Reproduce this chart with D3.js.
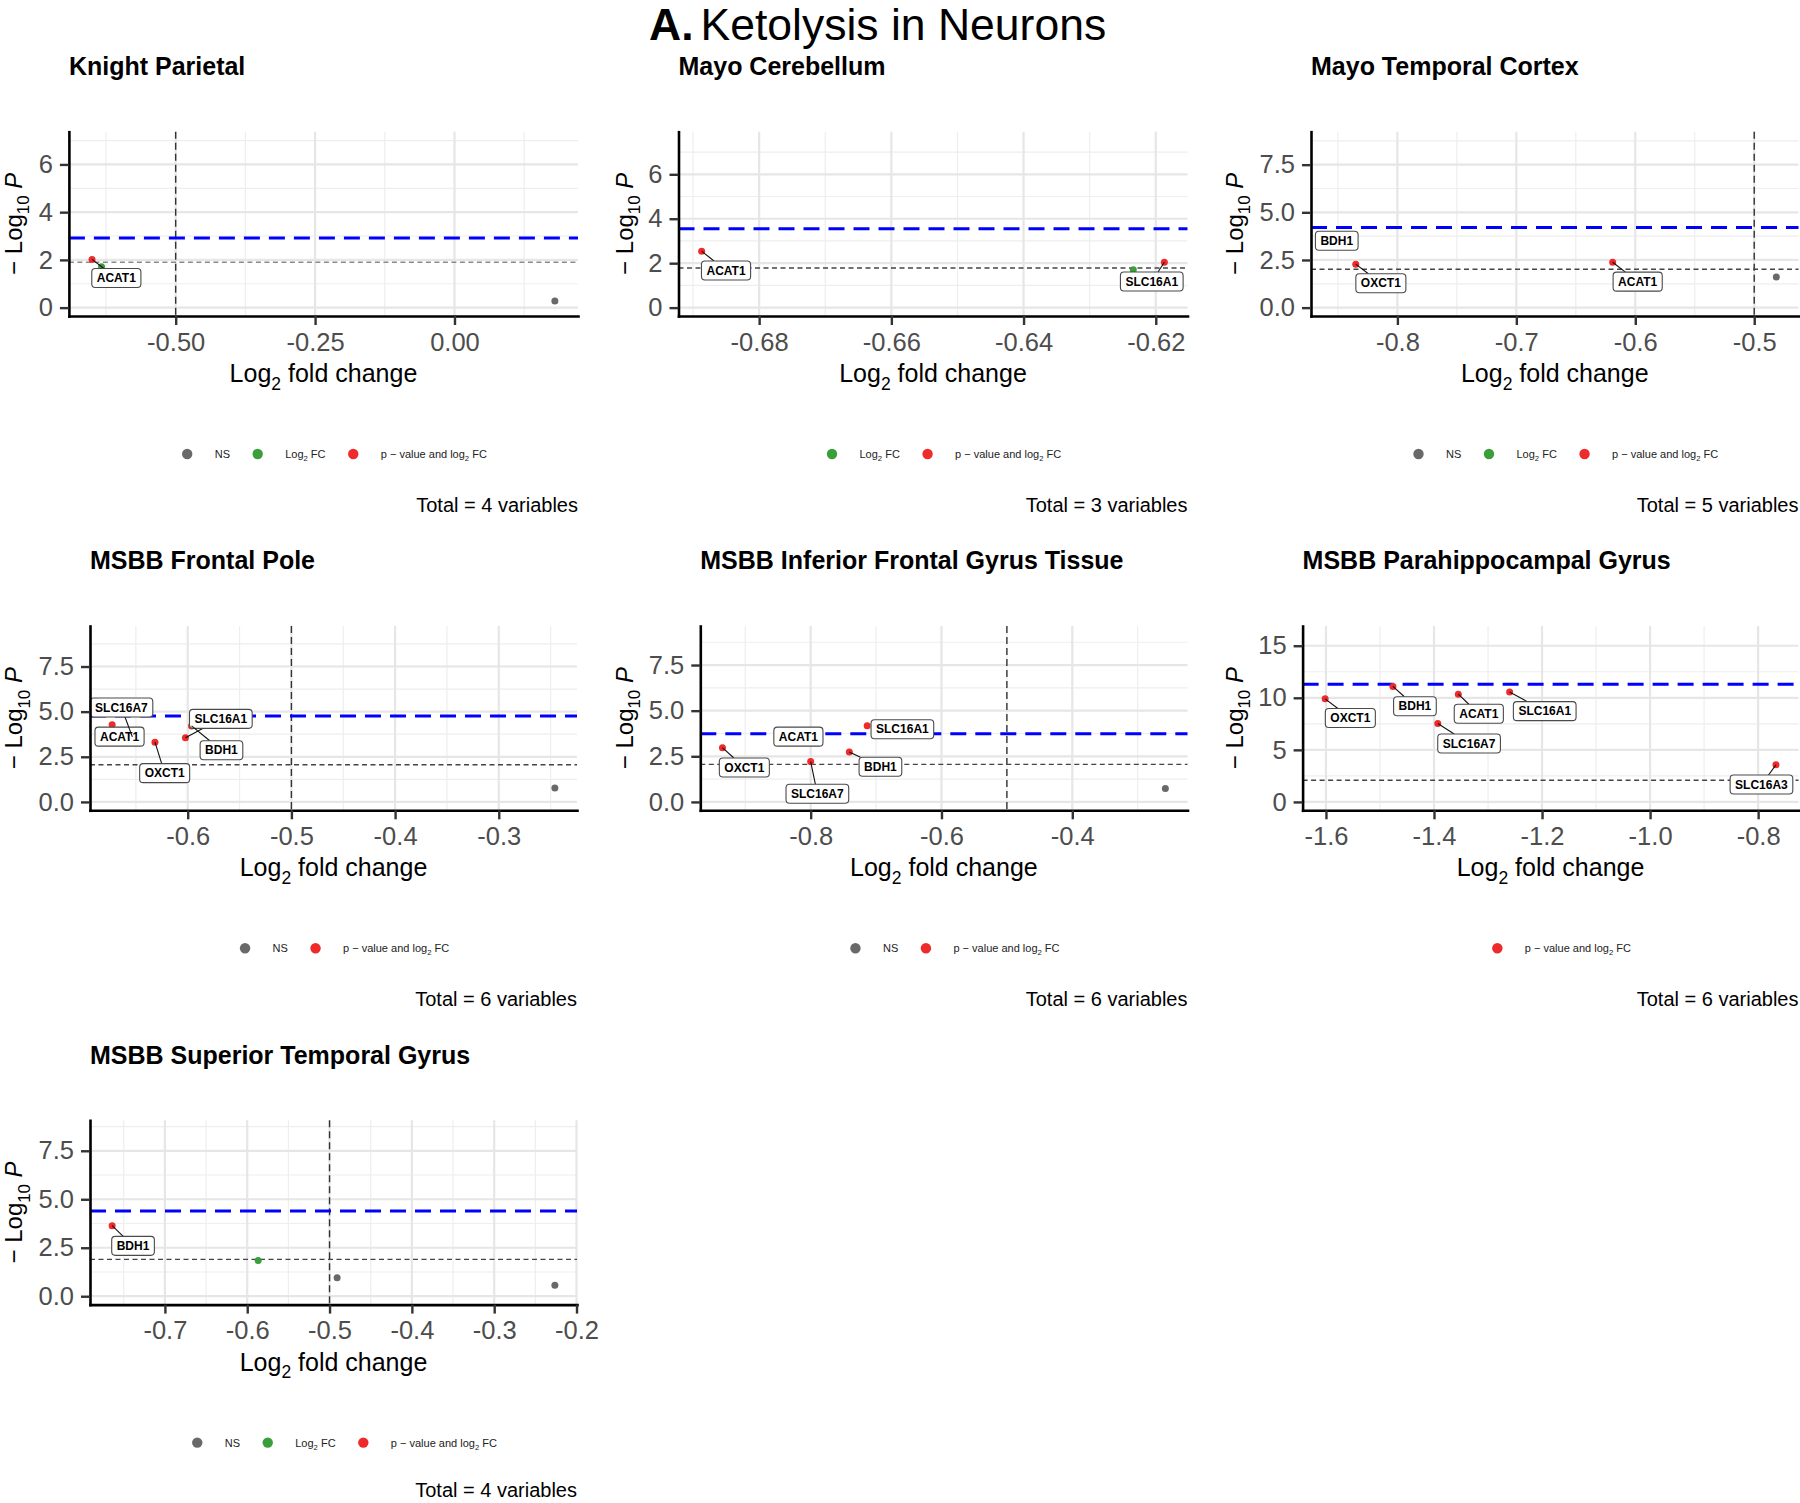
<!DOCTYPE html>
<html><head><meta charset="utf-8">
<script src="https://cdn.jsdelivr.net/npm/d3@7"></script>
<style>body{margin:0;background:#fff;}svg{display:block;}</style>
</head><body>
<svg id="chart" width="1800" height="1503"></svg>
<script>
// ================= DATA =================
const mainTitleBold = "A.";
const mainTitleText = "Ketolysis in Neurons";
const panelTitles = ["Knight Parietal", "Mayo Cerebellum", "Mayo Temporal Cortex",
  "MSBB Frontal Pole", "MSBB Inferior Frontal Gyrus Tissue", "MSBB Parahippocampal Gyrus",
  "MSBB Superior Temporal Gyrus"];
const totalVariables = [4, 3, 5, 6, 6, 6, 4];

// Knight Parietal
const kpGenes = ["", "", "ACAT1"];
const kpLog2FC = [0.180, -0.633, -0.650];
const kpNegLogP = [0.28, 1.71, 2.02];
const kpClass = ["ns", "fc", "both"];
const kpXTicks = [-0.5, -0.25, 0];
const kpXTickLabels = ["-0.50", "-0.25", "0.00"];
const kpYTicks = [0, 2, 4, 6];
const kpYTickLabels = ["0", "2", "4", "6"];
const kpLegend = ["ns", "fc", "both"];

// Mayo Cerebellum
const mcGenes = ["", "ACAT1", "SLC16A1"];
const mcLog2FC = [-0.6234, -0.6887, -0.6187];
const mcNegLogP = [1.71, 2.54, 2.04];
const mcClass = ["fc", "both", "both"];
const mcXTicks = [-0.68, -0.66, -0.64, -0.62];
const mcXTickLabels = ["-0.68", "-0.66", "-0.64", "-0.62"];
const mcYTicks = [0, 2, 4, 6];
const mcYTickLabels = ["0", "2", "4", "6"];
const mcLegend = ["fc", "both"];

// Mayo Temporal Cortex
const mtGenes = ["", "BDH1", "OXCT1", "ACAT1"];
const mtLog2FC = [-0.4814, -0.854, -0.835, -0.619];
const mtNegLogP = [1.61, 3.79, 2.28, 2.38];
const mtClass = ["ns", "both", "both", "both"];
const mtXTicks = [-0.8, -0.7, -0.6, -0.5];
const mtXTickLabels = ["-0.8", "-0.7", "-0.6", "-0.5"];
const mtYTicks = [0, 2.5, 5, 7.5];
const mtYTickLabels = ["0.0", "2.5", "5.0", "7.5"];
const mtLegend = ["ns", "fc", "both"];

// MSBB Frontal Pole
const fpGenes = ["", "ACAT1", "SLC16A7", "OXCT1", "SLC16A1", "BDH1"];
const fpLog2FC = [-0.2459, -0.6729, -0.6534, -0.6316, -0.6022, -0.5963];
const fpNegLogP = [0.776, 4.28, 3.60, 3.31, 3.55, 4.21];
const fpClass = ["ns", "both", "both", "both", "both", "both"];
const fpXTicks = [-0.6, -0.5, -0.4, -0.3];
const fpXTickLabels = ["-0.6", "-0.5", "-0.4", "-0.3"];
const fpYTicks = [0, 2.5, 5, 7.5];
const fpYTickLabels = ["0.0", "2.5", "5.0", "7.5"];
const fpLegend = ["ns", "both"];

// MSBB Inferior Frontal Gyrus Tissue
const ifGenes = ["", "ACAT1", "OXCT1", "SLC16A7", "BDH1", "SLC16A1"];
const ifLog2FC = [-0.2577, -0.8154, -0.9349, -0.800, -0.7409, -0.7136];
const ifNegLogP = [0.73, 3.56, 2.97, 2.21, 2.74, 4.18];
const ifClass = ["ns", "both", "both", "both", "both", "both"];
const ifXTicks = [-0.8, -0.6, -0.4];
const ifXTickLabels = ["-0.8", "-0.6", "-0.4"];
const ifYTicks = [0, 2.5, 5, 7.5];
const ifYTickLabels = ["0.0", "2.5", "5.0", "7.5"];
const ifLegend = ["ns", "both"];

// MSBB Parahippocampal Gyrus
const phGenes = ["OXCT1", "BDH1", "SLC16A7", "ACAT1", "SLC16A1", "SLC16A3"];
const phLog2FC = [-1.6015, -1.476, -1.393, -1.355, -1.260, -0.767];
const phNegLogP = [9.90, 11.09, 7.53, 10.35, 10.55, 3.56];
const phClass = ["both", "both", "both", "both", "both", "both"];
const phXTicks = [-1.6, -1.4, -1.2, -1.0, -0.8];
const phXTickLabels = ["-1.6", "-1.4", "-1.2", "-1.0", "-0.8"];
const phYTicks = [0, 5, 10, 15];
const phYTickLabels = ["0", "5", "10", "15"];
const phLegend = ["both"];

// MSBB Superior Temporal Gyrus
const stGenes = ["", "", "", "BDH1"];
const stLog2FC = [-0.4908, -0.2263, -0.5867, -0.7641];
const stNegLogP = [0.95, 0.57, 1.84, 3.64];
const stClass = ["ns", "ns", "fc", "both"];
const stXTicks = [-0.7, -0.6, -0.5, -0.4, -0.3, -0.2];
const stXTickLabels = ["-0.7", "-0.6", "-0.5", "-0.4", "-0.3", "-0.2"];
const stYTicks = [0, 2.5, 5, 7.5];
const stYTickLabels = ["0.0", "2.5", "5.0", "7.5"];
const stLegend = ["ns", "fc", "both"];

// cutoff lines (-log10 P) and fold-change cutoff
const sigLines = [2.92, 3.55, 4.21, 4.76, 3.74, 11.3, 4.39];
const pCutLines = [1.90, 1.78, 2.01, 2.06, 2.06, 2.08, 1.90];
const fcCutoff = 0.5;

// ================= LAYOUT / STYLE =================
const FONT = '"Liberation Sans", Arial, Helvetica, sans-serif';
const ROW_H = 494.3;
const layout = [
  {axisX: 68.9,  right: 578,    row: 0, yTitleX: 13.5,   hCol: "#8a8a8a", off: [null, null, [24.3, 18.6]]},
  {axisX: 678.5, right: 1187.5, row: 0, yTitleX: 625,    hCol: "#444", off: [null, [24.4, 19.3], [-12.6, 19.2]]},
  {axisX: 1311,  right: 1798.5, row: 0, yTitleX: 1234.5, hCol: "#444", off: [null, [3.6, 5.4], [25.1, 19.1], [25, 19.4]]},
  {axisX: 90,    right: 577,    row: 1, yTitleX: 14.3,   hCol: "#444", off: [null, [7.4, 12], [-10.9, -29.4], [9.7, 31], [35.4, -19], [29.9, 24.3]]},
  {axisX: 700.3, right: 1187.5, row: 1, yTitleX: 625,    hCol: "#444", off: [null, [-2.2, -0.3], [21.9, 19.8], [6.7, 32.2], [31.1, 14.8], [35.2, 3.6]]},
  {axisX: 1302.6,right: 1798.5, row: 1, yTitleX: 1234.5, hCol: "#444", off: [[25.2, 19.2], [22, 19.8], [31.3, 20], [20.5, 19.6], [35.1, 19.1], [-14.5, 19.6]]},
  {axisX: 90,    right: 577,    row: 2, yTitleX: 14.3,   hCol: "#444", off: [null, null, null, [20.9, 20.2]]}
];
const classColor = {ns: "#696969", fc: "#3a9e3a", both: "#ee2a2a"};
const classLabel = {
  ns: [["NS", 0]],
  fc: [["Log", 0], ["2", 1], [" FC", 0]],
  both: [["p \u2212 value and log", 0], ["2", 1], [" FC", 0]]
};

const panels = [
  {genes: kpGenes, fc: kpLog2FC, p: kpNegLogP, cls: kpClass, xt: kpXTicks, xl: kpXTickLabels, yt: kpYTicks, yl: kpYTickLabels, lg: kpLegend},
  {genes: mcGenes, fc: mcLog2FC, p: mcNegLogP, cls: mcClass, xt: mcXTicks, xl: mcXTickLabels, yt: mcYTicks, yl: mcYTickLabels, lg: mcLegend},
  {genes: mtGenes, fc: mtLog2FC, p: mtNegLogP, cls: mtClass, xt: mtXTicks, xl: mtXTickLabels, yt: mtYTicks, yl: mtYTickLabels, lg: mtLegend},
  {genes: fpGenes, fc: fpLog2FC, p: fpNegLogP, cls: fpClass, xt: fpXTicks, xl: fpXTickLabels, yt: fpYTicks, yl: fpYTickLabels, lg: fpLegend},
  {genes: ifGenes, fc: ifLog2FC, p: ifNegLogP, cls: ifClass, xt: ifXTicks, xl: ifXTickLabels, yt: ifYTicks, yl: ifYTickLabels, lg: ifLegend},
  {genes: phGenes, fc: phLog2FC, p: phNegLogP, cls: phClass, xt: phXTicks, xl: phXTickLabels, yt: phYTicks, yl: phYTickLabels, lg: phLegend},
  {genes: stGenes, fc: stLog2FC, p: stNegLogP, cls: stClass, xt: stXTicks, xl: stXTickLabels, yt: stYTicks, yl: stYTickLabels, lg: stLegend}
];

const svg = d3.select("#chart").attr("font-family", FONT);
svg.append("rect").attr("width", 1800).attr("height", 1503).attr("fill", "#fff");

// rich text helper: type 0 normal, 1 subscript, 2 italic
function rich(textSel, parts, fs) {
  let shifted = false;
  parts.forEach(([s, t]) => {
    const ts = textSel.append("tspan").text(s);
    if (t === 1) {
      ts.attr("font-size", fs * 0.7).attr("dy", fs * 0.3);
      shifted = true;
    } else {
      ts.attr("font-size", fs);
      if (shifted) { ts.attr("dy", -fs * 0.3); shifted = false; }
      if (t === 2) ts.attr("font-style", "italic");
    }
  });
  return textSel;
}

// main title
const mt = svg.append("text").attr("x", 649).attr("y", 40).attr("font-size", 44.5).attr("fill", "#000");
mt.append("tspan").attr("font-weight", "bold").text(mainTitleBold);
mt.append("tspan").attr("dx", 7).text(mainTitleText);

panels.forEach((P, pi) => {
  const L = layout[pi];
  const oy = L.row * ROW_H;
  const top = 131.7 + oy, bottom = 316 + oy;
  const ext = d3.extent(P.fc), pad = (ext[1] - ext[0]) * 0.05;
  const x = d3.scaleLinear().domain([ext[0] - pad, ext[1] + pad]).range([L.axisX, L.right]);
  const M = d3.max(P.p) + 5;
  const y = d3.scaleLinear().domain([-0.05 * M, 1.05 * M]).range([bottom, top]);
  const g = svg.append("g");
  const [x0, x1] = x.domain(), [y0, y1] = y.domain();

  // grid
  const xs = P.xt[1] - P.xt[0], ys = P.yt[1] - P.yt[0];
  const minX = [], minY = [];
  for (let k = -30; k <= 30; k++) {
    const vx = P.xt[0] + (k + 0.5) * xs; if (vx > x0 && vx < x1) minX.push(vx);
    const vy = P.yt[0] + (k + 0.5) * ys; if (vy > y0 && vy < y1) minY.push(vy);
  }
  const grid = g.append("g");
  grid.selectAll(".mnx").data(minX).join("line").attr("x1", d => x(d)).attr("x2", d => x(d))
    .attr("y1", top).attr("y2", bottom).attr("stroke", "#eeeeee").attr("stroke-width", 1.2);
  grid.selectAll(".mny").data(minY).join("line").attr("y1", d => y(d)).attr("y2", d => y(d))
    .attr("x1", L.axisX).attr("x2", L.right).attr("stroke", "#eeeeee").attr("stroke-width", 1.2);
  grid.selectAll(".mjx").data(P.xt).join("line").attr("x1", d => x(d)).attr("x2", d => x(d))
    .attr("y1", top).attr("y2", bottom).attr("stroke", "#e6e6e6").attr("stroke-width", 2.2);
  grid.selectAll(".mjy").data(P.yt).join("line").attr("y1", d => y(d)).attr("y2", d => y(d))
    .attr("x1", L.axisX).attr("x2", L.right).attr("stroke", "#e6e6e6").attr("stroke-width", 2.2);

  // cutoff lines
  [-fcCutoff, fcCutoff].filter(v => v > x0 && v < x1).forEach(v => {
    g.append("line").attr("x1", x(v)).attr("x2", x(v)).attr("y1", top).attr("y2", bottom)
      .attr("stroke", "#333").attr("stroke-width", 1.4).attr("stroke-dasharray", "7,4");
  });
  g.append("line").attr("x1", L.axisX).attr("x2", L.right).attr("y1", y(pCutLines[pi])).attr("y2", y(pCutLines[pi]))
    .attr("stroke", L.hCol).attr("stroke-width", 1.4).attr("stroke-dasharray", "5,3.5");
  g.append("line").attr("x1", L.axisX).attr("x2", L.right).attr("y1", y(sigLines[pi])).attr("y2", y(sigLines[pi]))
    .attr("stroke", "#0000ff").attr("stroke-width", 3).attr("stroke-dasharray", "16,9");

  // points
  const idx = d3.range(P.fc.length);
  g.append("g").selectAll("circle").data(idx).join("circle")
    .attr("cx", i => x(P.fc[i])).attr("cy", i => y(P.p[i])).attr("r", 3.5)
    .attr("fill", i => classColor[P.cls[i]]);

  // labels
  const lab = g.append("g");
  idx.forEach(i => {
    if (!P.genes[i] || !L.off[i]) return;
    const px = x(P.fc[i]), py = y(P.p[i]);
    const cx = px + L.off[i][0], cy = py + L.off[i][1];
    const lg = lab.append("g");
    const seg = lg.append("line");
    const box = lg.append("rect");
    const t = lg.append("text").attr("x", cx).attr("y", cy + 4.2).attr("text-anchor", "middle")
      .attr("font-size", 12).attr("font-weight", "bold").attr("fill", "#000").text(P.genes[i]);
    const w = t.node().getComputedTextLength() + 10, h = 19;
    const bx0 = cx - w / 2, bx1 = cx + w / 2, by0 = cy - h / 2, by1 = cy + h / 2;
    box.attr("x", bx0).attr("y", by0).attr("width", w).attr("height", h).attr("rx", 3.5)
      .attr("fill", "#fff").attr("stroke", "#4a4a4a").attr("stroke-width", 1.1);
    const inside = px >= bx0 && px <= bx1 && py >= by0 && py <= by1;
    if (!inside) {
      let tx = 0, ty = 0;
      if (px < bx0) tx = (bx0 - px) / (cx - px); else if (px > bx1) tx = (bx1 - px) / (cx - px);
      if (py < by0) ty = (by0 - py) / (cy - py); else if (py > by1) ty = (by1 - py) / (cy - py);
      const tt = Math.max(tx, ty);
      const ex = px + tt * (cx - px), ey = py + tt * (cy - py);
      if (Math.hypot(ex - px, ey - py) > 4.5) {
        seg.attr("x1", px).attr("y1", py).attr("x2", ex).attr("y2", ey)
          .attr("stroke", "#111").attr("stroke-width", 1.1);
      }
    }
  });

  // axes
  const styleAxis = a => {
    a.attr("font-family", FONT);
    a.select(".domain").attr("stroke", "#000").attr("stroke-width", 2.6).attr("stroke-linecap", "square");
    a.selectAll(".tick line").attr("stroke", "#333").attr("stroke-width", 2.4);
    a.selectAll(".tick text").attr("font-size", 25.5).attr("fill", "#4d4d4d");
  };
  const xa = g.append("g").attr("transform", `translate(0,${bottom})`)
    .call(d3.axisBottom(x).tickValues(P.xt).tickFormat((d, i) => P.xl[i]).tickSize(9).tickSizeOuter(0).tickPadding(7.5));
  styleAxis(xa);
  const ya = g.append("g").attr("transform", `translate(${L.axisX},0)`)
    .call(d3.axisLeft(y).tickValues(P.yt).tickFormat((d, i) => P.yl[i]).tickSize(9).tickSizeOuter(0).tickPadding(7));
  styleAxis(ya);

  // titles
  g.append("text").attr("x", L.axisX).attr("y", 75 + oy).attr("font-size", 25).attr("font-weight", "bold")
    .attr("fill", "#000").text(panelTitles[pi]);
  rich(g.append("text").attr("x", (L.axisX + L.right) / 2).attr("y", 382 + oy).attr("text-anchor", "middle").attr("fill", "#000"),
    [["Log", 0], ["2", 1], [" fold change", 0]], 25);
  const ymid = (top + bottom) / 2;
  rich(g.append("text").attr("transform", `translate(${L.yTitleX + 8},${ymid}) rotate(-90)`).attr("text-anchor", "middle").attr("fill", "#000"),
    [["\u2212 Log", 0], ["10", 1], [" ", 0], ["P", 2]], 24);

  // legend
  const lgG = g.append("g");
  let cxp = 0;
  P.lg.forEach(k => {
    lgG.append("circle").attr("cx", cxp).attr("cy", 0).attr("r", 5.2).attr("fill", classColor[k]);
    const t = rich(lgG.append("text").attr("x", cxp + 27.5).attr("y", 3.9).attr("fill", "#222"), classLabel[k], 11);
    const w = t.node().getComputedTextLength();
    cxp = cxp + 27.5 + w + 27.7;
  });
  const lgW = cxp - 27.7 + 5.2;
  const lgCenter = (L.axisX + L.right) / 2 + 11;
  lgG.attr("transform", `translate(${lgCenter - lgW / 2 + 5.2},${454 + oy})`);

  // total caption
  g.append("text").attr("x", L.right).attr("y", Math.min(512 + oy, 1497)).attr("text-anchor", "end").attr("font-size", 20)
    .attr("fill", "#000").text(`Total = ${totalVariables[pi]} variables`);
});
</script>
</body></html>
